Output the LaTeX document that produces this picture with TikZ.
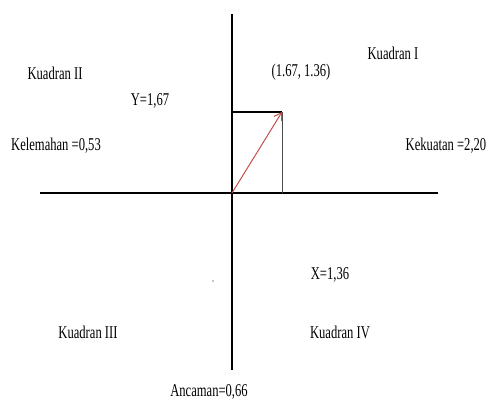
\documentclass[tikz,border=0pt]{standalone}
\usepackage{fontspec}
\setmainfont{Liberation Serif}[FakeStretch=0.7]
\usepackage{tikz}
\usetikzlibrary{positioning,arrows.meta}
\definecolor{panah}{RGB}{192,80,77}
\tikzset{
	label/.style={inner sep=0pt, font=\fontsize{18}{20}\selectfont},
	sumbu/.style={line width=2pt, black},
	kotak/.style={line width=1.2pt, black}
}
\begin{document}
\begin{tikzpicture}[x=1pt,y=-1pt]
	\useasboundingbox (0,0) rectangle (491,399);
	% titik-titik sumbu
	\coordinate (O) at (232,193);
	\coordinate (atas) at (232,14);
	\coordinate (bawah) at (232,370);
	\coordinate (kiri) at (40,193);
	\coordinate (kanan) at (438,193);
	\coordinate (P) at (282,112);
	\coordinate (Py) at (232,112);
	\coordinate (Px) at (282,193);
	
	% sumbu
	\draw[sumbu] (atas) -- (bawah);
	\draw[sumbu] (kiri) -- (kanan);
	
	% kotak titik
	\draw[kotak] (Py) -- (P);
	\draw[kotak, black!70, line width=1pt] (P) -- (Px);
	\draw[panah, line width=1pt, -{Straight Barb[length=7pt,width=9pt]}] (O) -- (P);
	
	% label
	\node[label] (titik) at (301,72) {(1.67, 1.36)};
	\node[label] (k1) at (393,53) {Kuadran I};
	\node[label] (k2) at (55,73) {Kuadran II};
	\node[label] (k3) at (88,332) {Kuadran III};
	\node[label] (k4) at (340,332) {Kuadran IV};
	\node[label] (ny) at (150,101) {Y=1,67};
	\node[label] (nx) at (330,275) {X=1,36};
	\node[label] (lemah) at (56,146) {Kelemahan =0,53};
	\node[label] (kuat) at (446,146) {Kekuatan =2,20};
	\node[label] (ancam) at (209,392) {Ancaman=0,66};
	\fill (213,281) circle (0.6pt);
\end{tikzpicture}
\end{document}
